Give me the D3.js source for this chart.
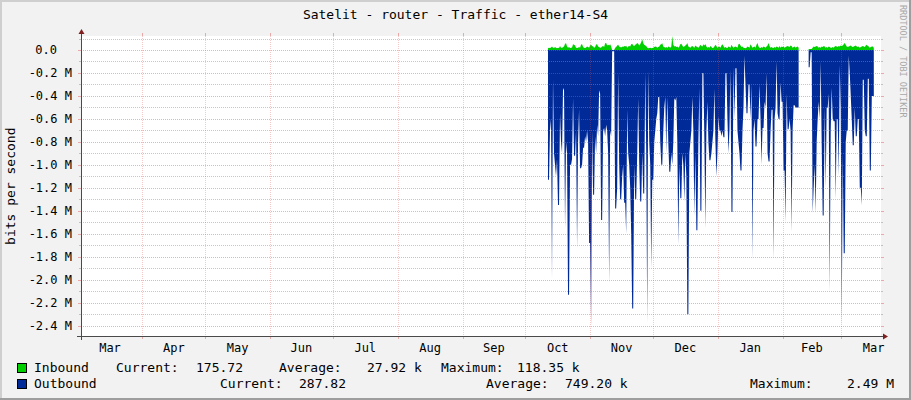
<!DOCTYPE html>
<html>
<head>
<meta charset="utf-8">
<script src="https://cdnjs.cloudflare.com/ajax/libs/d3/7.8.5/d3.min.js"></script>
<style>
body { margin: 0; background: #f2f2f2; }
svg text { font-family: 'DejaVu Sans Mono', monospace; fill: #000; }
</style>
</head>
<body>
<div id="graph"></div>
<script>
//chart texts
const title = 'Satelit - router - Traffic - ether14-S4';
const yTitle = 'bits per second';
const watermark = 'RRDTOOL / TOBI OETIKER';

//time window of the graph and of the series (UTC)
const viewStart = '2022-03-02T15:00:00Z';
const viewEnd = '2023-03-20T00:00:00Z';
const seriesStart = '2022-10-11T20:00:00Z';
const stepHours = 11.5;

//y ticks in Mbit/s
const yTicks = [0, -0.2, -0.4, -0.6, -0.8, -1.0, -1.2, -1.4, -1.6, -1.8, -2.0, -2.2, -2.4];
const yMinor = [0.1, -0.1, -0.3, -0.5, -0.7, -0.9, -1.1, -1.3, -1.5, -1.7, -1.9, -2.1, -2.3];
const yMin = -2.49;
const yMax = 0.11835;

//inbound, Mbit/s (drawn upwards)
const inbound = [
  .015,.02,.018,.022,.03,.02,.018,.025,.02,.015,
  .02,.018,.035,.02,.018,.025,.03,.055,.058,.03,
  .02,.025,.018,.02,.022,.05,.045,.04,.02,.018,
  .02,.025,.02,.048,.05,.025,.02,.018,.022,.03,
  .025,.02,.04,.045,.035,.03,.02,.025,.048,.05,
  .03,.025,.02,.022,.03,.035,.025,.058,.06,.04,
  .045,.04,.05,.03,
  0,0,0,
  .02,.025,.04,.045,.03,.025,.022,.03,.025,.035,
  .03,.038,.02,.03,.035,.03,.05,.055,.04,.035,
  .045,.05,.06,.055,.04,.05,.07,.093,.06,.045,
  .04,.035,.02,.015,.018,.02,.015,.018,.02,.025,
  .03,.028,.02,.025,.03,.045,.05,.058,.03,.025,
  .02,.025,.018,.03,.025,.02,.03,.122,.045,.03,
  .035,.025,.03,.02,.03,.05,.055,.04,.025,.03,
  .04,.045,.06,.03,.025,.02,.03,.035,.025,.02,
  .04,.03,.025,.02,.03,.045,.035,.03,.05,.04,
  .052,.03,.02,.025,.02,.035,.025,.018,.02,.03,
  .045,.035,.02,.025,.03,.02,.04,.05,.035,.02,
  .025,.02,.018,.03,.025,.02,.045,.03,.02,.025,
  .03,.025,.02,.05,.055,.04,.025,.03,.02,.018,
  .015,.02,.03,.025,.02,.05,.035,.02,.025,.03,
  .02,.045,.06,.03,.02,.018,.025,.02,.03,.025,
  .02,.03,.04,.06,.035,.02,.025,.02,.018,.025,
  .02,.03,.025,.02,.035,.02,.03,.025,.03,.02,
  .025,.03,.035,.03,.025,.04,.035,.02,.025,.03,
  .02,.025,.03,.02,
  null,null,null,null,null,null,null,null,null,
  .008,.008,.008,.008,
  .02,.03,.025,.03,.035,.03,.02,.025,.02,.03,
  .025,.035,.03,.02,.025,.02,.03,.025,.02,.02,
  .025,.02,.03,.035,.03,.025,.035,.03,.04,.035,
  .04,.05,.06,.045,.03,.025,.03,.035,.04,.03,
  .025,.03,.035,.04,.03,.025,.03,.02,.025,.03,
  .035,.03,.025,.04,.045,.035,.03,.02,.025,.03,
  .03,.02
];

//outbound, Mbit/s (drawn downwards)
const outbound = [
  1.13,1.13,0.7,0.6,1.99,0.25,0.9,1.0,1.1,0.95,
  1.35,1.35,0.55,0.8,0.9,0.33,0.35,1.55,0.8,0.9,
  2.13,2.13,1.0,1.0,0.95,0.42,0.92,0.92,0.7,1.73,
  0.8,0.52,1.03,1.03,1.0,0.85,0.85,0.75,0.8,0.7,
  0.8,1.68,1.68,2.4,0.7,1.26,1.26,0.75,0.9,0.65,
  0.75,0.35,0.38,1.48,1.48,0.7,0.68,0.75,0.65,0.7,
  0.9,2.03,0.7,0.75,
  0.01,0.01,0.01,
  1.38,1.38,1.2,0.2,1.0,1.3,1.3,1.1,1.0,1.33,
  1.33,1.6,0.52,0.9,1.0,1.2,1.6,2.25,2.25,1.0,
  1.3,1.3,0.9,0.42,1.0,1.32,1.32,0.9,1.25,1.25,
  0.2,0.9,2.37,0.18,0.8,1.0,1.9,1.13,1.13,0.8,
  0.7,0.6,0.55,0.41,0.41,0.8,1.0,1.0,0.7,0.5,
  0.41,0.9,0.41,0.8,1.06,1.06,0.9,1.0,0.8,0.42,
  0.44,0.41,0.8,1.7,1.0,1.29,1.29,0.9,1.0,1.32,
  0.9,1.1,2.3,2.3,0.9,0.8,0.7,0.41,0.7,1.45,
  0.9,1.57,1.57,0.8,0.33,1.4,1.4,0.2,0.2,0.8,
  1.55,0.7,0.45,0.8,0.96,0.96,0.9,0.8,0.7,0.34,
  0.8,1.1,0.9,0.58,0.7,0.7,0.75,0.7,0.76,0.76,
  0.2,0.2,0.6,0.9,0.7,0.17,1.41,1.41,0.15,0.6,
  0.16,0.16,0.7,0.8,0.9,1.05,1.05,0.7,0.5,0.05,
  0.3,0.55,0.55,0.3,0.3,0.6,0.3,1.82,0.7,0.6,
  0.84,0.84,0.6,0.6,0.3,0.6,1.0,0.68,0.68,0.45,
  0.5,0.2,0.9,0.97,0.97,0.7,0.52,0.52,1.82,0.6,
  0.5,0.1,0.55,0.6,0.6,0.28,0.45,0.45,1.05,1.05,
  1.5,0.38,0.69,0.69,0.6,0.7,1.58,0.7,0.48,0.48,
  0.5,0.5,0.5,0.5,
  null,null,null,null,null,null,null,null,null,
  0.15,0.15,0.02,0.02,
  1.42,1.2,1.0,1.42,0.8,0.6,0.45,0.6,0.1,0.8,
  1.44,1.44,0.5,1.2,0.5,0.5,0.38,2.1,0.7,0.33,
  0.6,0.62,0.62,1.3,0.6,0.6,1.1,0.13,0.5,2.4,
  0.9,1.77,1.77,0.8,0.7,0.7,0.05,0.2,0.4,0.6,
  0.83,0.83,0.5,0.75,0.75,0.6,0.6,1.2,1.2,1.35,
  0.26,0.26,0.7,0.75,0.75,0.25,0.25,1.05,1.05,0.4,
  0.4,0.4
];

//legend
const legendNames = ['Inbound', 'Outbound'];
const legendColors = ['#00cf00', '#002a97'];
const legendCurrent = ['175.72', '287.82'];
const legendAverage = ['27.92 k', '749.20 k'];
const legendMaximum = ['118.35 k', '2.49 M'];

//size and layout
const width = 911, height = 400;
const plot = {left: 81, right: 881, top: 36.4, bottom: 336};

let svg = d3.select('#graph')
    .append('svg')
    .attr('width', width)
    .attr('height', height);

//background with the rrdtool shade frame
svg.append('rect').attr('width', width).attr('height', height).attr('fill', '#f2f2f2');
svg.append('rect').attr('x', 0).attr('y', 0).attr('width', width).attr('height', 2).attr('fill', '#cfcfcf');
svg.append('rect').attr('x', 0).attr('y', 0).attr('width', 2).attr('height', height).attr('fill', '#cfcfcf');
svg.append('rect').attr('x', 0).attr('y', height - 2).attr('width', width).attr('height', 2).attr('fill', '#9e9e9e');
svg.append('rect').attr('x', width - 2).attr('y', 0).attr('width', 2).attr('height', height).attr('fill', '#9e9e9e');

//canvas
svg.append('rect')
    .attr('x', plot.left)
    .attr('y', Math.floor(plot.top))
    .attr('width', plot.right - plot.left)
    .attr('height', plot.bottom - Math.floor(plot.top))
    .attr('fill', '#ffffff');

//scales
let x = d3.scaleUtc()
    .domain([new Date(viewStart), new Date(viewEnd)])
    .range([plot.left, plot.right]);

let y = d3.scaleLinear()
    .domain([yMin, yMax])
    .range([plot.bottom, plot.top]);

let t0 = new Date(seriesStart).getTime();
function timeOf(i) { return new Date(t0 + i * stepHours * 3600 * 1000); }

//areas
let inArea = d3.area()
    .defined(function(d) { return d !== null; })
    .x(function(d, i) { return x(timeOf(i)); })
    .y0(y(0))
    .y1(function(d) { return y(d); });

let outArea = d3.area()
    .defined(function(d) { return d !== null; })
    .x(function(d, i) { return x(timeOf(i)); })
    .y0(y(0))
    .y1(function(d) { return y(-d); });

svg.append('path').datum(inbound).attr('d', inArea).attr('fill', legendColors[0]);
svg.append('path').datum(outbound).attr('d', outArea).attr('fill', legendColors[1]);

//grid, drawn over the data like rrdtool does
const gridColor = 'rgba(143,143,143,0.5)';
const mgridColor = 'rgba(222,79,79,0.45)';
const mgridVColor = 'rgba(222,79,79,0.3)';
let grid = svg.append('g').attr('shape-rendering', 'crispEdges');

yMinor.forEach(function(v) {
    let py = Math.round(y(v)) + 0.5;
    grid.append('line').attr('x1', plot.left).attr('x2', plot.right).attr('y1', py).attr('y2', py)
        .attr('stroke', gridColor).attr('stroke-dasharray', '1,1');
    grid.append('line').attr('x1', plot.left - 2).attr('x2', plot.left).attr('y1', py).attr('y2', py)
        .attr('stroke', gridColor);
    grid.append('line').attr('x1', plot.right).attr('x2', plot.right + 2).attr('y1', py).attr('y2', py)
        .attr('stroke', gridColor);
});

yTicks.forEach(function(v) {
    let py = Math.round(y(v)) + 0.5;
    grid.append('line').attr('x1', plot.left).attr('x2', plot.right).attr('y1', py).attr('y2', py)
        .attr('stroke', mgridColor).attr('stroke-dasharray', '1,1');
    grid.append('line').attr('x1', plot.left - 3).attr('x2', plot.left).attr('y1', py).attr('y2', py)
        .attr('stroke', mgridColor);
    grid.append('line').attr('x1', plot.right).attr('x2', plot.right + 3).attr('y1', py).attr('y2', py)
        .attr('stroke', mgridColor);
});

let months = d3.utcMonth.range(new Date(viewStart), new Date(viewEnd));
months.forEach(function(m) {
    let px = Math.round(x(m)) + 0.5;
    grid.append('line').attr('x1', px).attr('x2', px).attr('y1', Math.floor(plot.top)).attr('y2', plot.bottom)
        .attr('stroke', mgridVColor).attr('stroke-dasharray', '1,1');
    grid.append('line').attr('x1', px).attr('x2', px).attr('y1', plot.bottom).attr('y2', plot.bottom + 3)
        .attr('stroke', mgridColor);
    grid.append('line').attr('x1', px).attr('x2', px).attr('y1', Math.floor(plot.top) - 3).attr('y2', Math.floor(plot.top))
        .attr('stroke', mgridColor);
});

//axes
let axes = svg.append('g').attr('shape-rendering', 'crispEdges');
axes.append('line').attr('x1', plot.left - 4).attr('x2', plot.right + 3)
    .attr('y1', plot.bottom + 0.5).attr('y2', plot.bottom + 0.5).attr('stroke', '#4a4a4a');
axes.append('line').attr('x1', plot.left + 0.5).attr('x2', plot.left + 0.5)
    .attr('y1', plot.bottom + 4).attr('y2', Math.floor(plot.top) - 3).attr('stroke', '#4a4a4a');
svg.append('path')
    .attr('d', `M${plot.right + 2},${plot.bottom - 2.5}L${plot.right + 7},${plot.bottom + 0.5}L${plot.right + 2},${plot.bottom + 3.5}Z`)
    .attr('fill', '#801f1f');
svg.append('path')
    .attr('d', `M${plot.left - 2.5},${Math.floor(plot.top) - 2}L${plot.left + 0.5},${Math.floor(plot.top) - 7}L${plot.left + 3.5},${Math.floor(plot.top) - 2}Z`)
    .attr('fill', '#801f1f');

//y labels
yTicks.forEach(function(v) {
    let label = v === 0 ? '0.0' : v.toFixed(1) + ' M';
    svg.append('text')
        .attr('x', v === 0 ? 57 : 72)
        .attr('y', y(v) + 4.5)
        .attr('text-anchor', 'end')
        .style('font-size', '12px')
        .text(label);
});

//month labels, centred on each month
let monthFmt = d3.utcFormat('%b');
d3.utcMonth.range(d3.utcMonth.floor(new Date(viewStart)), new Date(viewEnd)).forEach(function(m) {
    let mid = new Date((m.getTime() + d3.utcMonth.offset(m, 1).getTime()) / 2);
    let px = x(mid);
    if (px < plot.left || px > plot.right) return;
    svg.append('text')
        .attr('x', px)
        .attr('y', 352)
        .attr('text-anchor', 'middle')
        .style('font-size', '12px')
        .text(monthFmt(m));
});

//title and axis title
svg.append('text')
    .attr('x', 455.5)
    .attr('y', 19)
    .attr('text-anchor', 'middle')
    .style('font-size', '13px')
    .text(title);

svg.append('text')
    .attr('transform', `translate(15, ${(plot.top + plot.bottom) / 2}) rotate(-90)`)
    .attr('text-anchor', 'middle')
    .style('font-size', '13px')
    .text(yTitle);

svg.append('text')
    .attr('transform', 'translate(900, 5) rotate(90)')
    .attr('text-anchor', 'start')
    .style('font-size', '8.5px')
    .style('fill', '#a8a8a8')
    .text(watermark);

//legend
const legendX = [
    [34, 116, 196, 279, 367, 441, 517],
    [34, 220, 299, 486, 565, 750, 847]
];
legendNames.forEach(function(name, i) {
    let base = 372 + i * 16;
    svg.append('rect')
        .attr('x', 17.5).attr('y', base - 8.5)
        .attr('width', 9).attr('height', 9)
        .attr('fill', legendColors[i])
        .attr('stroke', '#000').attr('stroke-width', 1);
    let parts = [name, 'Current:', legendCurrent[i], 'Average:', legendAverage[i], 'Maximum:', legendMaximum[i]];
    parts.forEach(function(p, j) {
        svg.append('text')
            .attr('x', legendX[i][j])
            .attr('y', base)
            .style('font-size', '13px')
            .text(p);
    });
});
</script>
</body>
</html>
